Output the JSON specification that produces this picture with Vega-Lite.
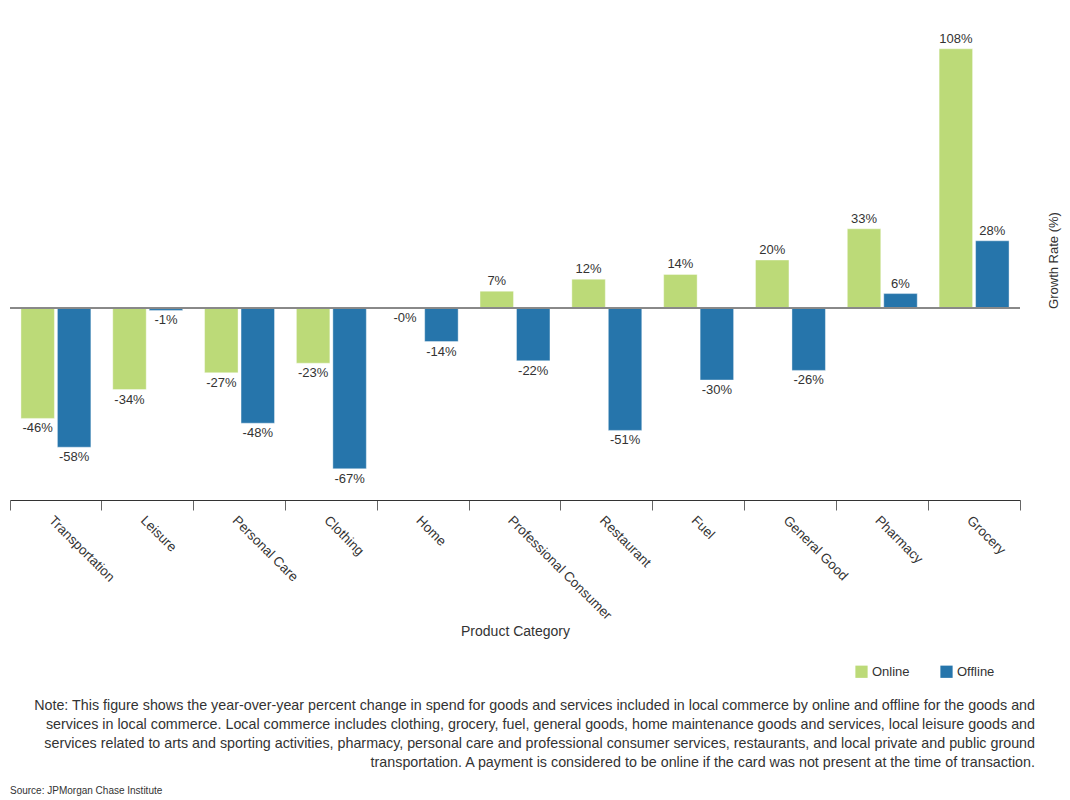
{
  "$schema": "https://vega.github.io/schema/vega-lite/v6.json",
  "padding": {"left": 0, "top": 20, "right": 5, "bottom": 0},
  "config": {
    "font": "Liberation Sans",
    "view": {"stroke": null},
    "concat": {"spacing": 0}
  },
  "title": {
    "text": "Source: JPMorgan Chase Institute",
    "orient": "bottom",
    "anchor": "start",
    "frame": "group",
    "fontSize": 10,
    "fontWeight": "normal",
    "color": "#333333",
    "offset": 16
  },
  "vconcat": [
    {
      "width": 1010,
      "height": 480,
      "data": {
        "values": [
          {"category": "Transportation", "channel": "Online", "value": -46, "label": "-46%"},
          {"category": "Transportation", "channel": "Offline", "value": -58, "label": "-58%"},
          {"category": "Leisure", "channel": "Online", "value": -34, "label": "-34%"},
          {"category": "Leisure", "channel": "Offline", "value": -1, "label": "-1%"},
          {"category": "Personal Care", "channel": "Online", "value": -27, "label": "-27%"},
          {"category": "Personal Care", "channel": "Offline", "value": -48, "label": "-48%"},
          {"category": "Clothing", "channel": "Online", "value": -23, "label": "-23%"},
          {"category": "Clothing", "channel": "Offline", "value": -67, "label": "-67%"},
          {"category": "Home", "channel": "Online", "value": -0.2, "label": "-0%"},
          {"category": "Home", "channel": "Offline", "value": -14, "label": "-14%"},
          {"category": "Professional Consumer", "channel": "Online", "value": 7, "label": "7%"},
          {"category": "Professional Consumer", "channel": "Offline", "value": -22, "label": "-22%"},
          {"category": "Restaurant", "channel": "Online", "value": 12, "label": "12%"},
          {"category": "Restaurant", "channel": "Offline", "value": -51, "label": "-51%"},
          {"category": "Fuel", "channel": "Online", "value": 14, "label": "14%"},
          {"category": "Fuel", "channel": "Offline", "value": -30, "label": "-30%"},
          {"category": "General Good", "channel": "Online", "value": 20, "label": "20%"},
          {"category": "General Good", "channel": "Offline", "value": -26, "label": "-26%"},
          {"category": "Pharmacy", "channel": "Online", "value": 33, "label": "33%"},
          {"category": "Pharmacy", "channel": "Offline", "value": 6, "label": "6%"},
          {"category": "Grocery", "channel": "Online", "value": 108, "label": "108%"},
          {"category": "Grocery", "channel": "Offline", "value": 28, "label": "28%"}
        ]
      },
      "title": {
        "text": [
          "Note: This figure shows the year-over-year percent change in spend for goods and services included in local commerce by online and offline for the goods and",
          "services in local commerce. Local commerce includes clothing, grocery, fuel, general goods, home maintenance goods and services, local leisure goods and",
          "services related to arts and sporting activities, pharmacy, personal care and professional consumer services, restaurants, and local private and public ground",
          "transportation. A payment is considered to be online if the card was not present at the time of transaction."
        ],
        "orient": "bottom",
        "anchor": "end",
        "align": "right",
        "frame": "group",
        "fontSize": 14.3,
        "fontWeight": "normal",
        "lineHeight": 19,
        "color": "#333333",
        "offset": 60,
        "dx": 15
      },
      "encoding": {
        "x": {
          "field": "category",
          "type": "nominal",
          "sort": ["Transportation", "Leisure", "Personal Care", "Clothing", "Home", "Professional Consumer", "Restaurant", "Fuel", "General Good", "Pharmacy", "Grocery"],
          "scale": {"paddingInner": 0, "paddingOuter": 0},
          "axis": {
            "title": "Product Category",
            "titleFontSize": 14,
            "titleFontWeight": "normal",
            "titleColor": "#333333",
            "titlePadding": 3,
            "labelAngle": 45,
            "labelAlign": "left",
            "labelBaseline": "top",
            "labelFontSize": 13.5,
            "labelColor": "#333333",
            "labelPadding": 3,
            "bandPosition": 1,
            "tickExtra": true,
            "labelOffset": 0,
            "tickSize": 10,
            "tickColor": "#666666",
            "domainColor": "#333333",
            "offset": 0
          }
        },
        "xOffset": {
          "field": "channel",
          "type": "nominal",
          "scale": {"domain": ["Online", "Offline"], "paddingInner": 0.082, "paddingOuter": 0.3}
        },
        "y": {
          "field": "value",
          "type": "quantitative",
          "scale": {"domain": [-80, 120], "nice": false, "zero": true},
          "axis": {
            "orient": "right",
            "title": "Growth Rate (%)",
            "titleAngle": 270,
            "titleFontSize": 13,
            "titleFontWeight": "normal",
            "titleColor": "#333333",
            "titlePadding": 40,
            "labels": false,
            "ticks": false,
            "domain": false,
            "grid": false
          }
        }
      },
      "layer": [
        {
          "mark": {"type": "bar", "stroke": "white", "strokeWidth": 1, "strokeOpacity": 0.4},
          "encoding": {
            "color": {
              "field": "channel",
              "type": "nominal",
              "scale": {"domain": ["Online", "Offline"], "range": ["#bcda78", "#2675ab"]},
              "legend": {
                "title": null,
                "orient": "none",
                "direction": "horizontal",
                "legendX": 845,
                "legendY": 645,
                "symbolType": "square",
                "symbolSize": 150,
                "symbolStrokeWidth": 0,
                "labelFontSize": 13,
                "labelColor": "#333333",
                "columnPadding": 30
              }
            }
          }
        },
        {
          "transform": [{"filter": "datum.value >= 0"}],
          "mark": {"type": "text", "baseline": "bottom", "dy": -3, "fontSize": 13, "color": "#333333"},
          "encoding": {"text": {"field": "label"}}
        },
        {
          "transform": [{"filter": "datum.value < 0"}],
          "mark": {"type": "text", "baseline": "top", "dy": 4, "fontSize": 13, "color": "#333333"},
          "encoding": {"text": {"field": "label"}}
        },
        {
          "mark": {"type": "rule", "color": "#888888", "strokeWidth": 1},
          "encoding": {"y": {"datum": 0}, "x": null, "xOffset": null}
        }
      ]
    }
  ]
}
